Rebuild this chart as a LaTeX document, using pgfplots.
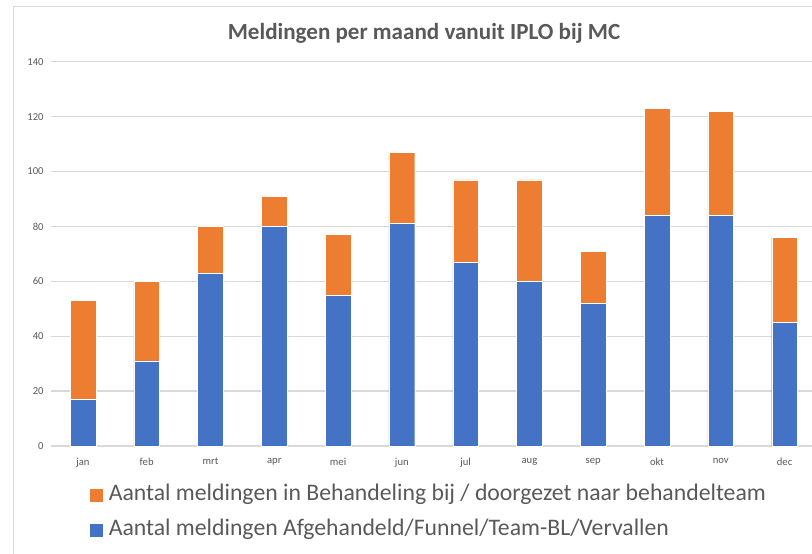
\documentclass[border=0pt]{standalone}
\usepackage{pgfplots}
\pgfplotsset{compat=1.18}
\usepackage{fontspec}
\setmainfont{Carlito}
\definecolor{cblue}{HTML}{4472C4}
\definecolor{corange}{HTML}{ED7D31}
\definecolor{cgrid}{HTML}{D9D9D9}
\definecolor{ctext}{HTML}{595959}
\begin{document}
\begin{tikzpicture}
\path[use as bounding box] (0,0) rectangle (609pt,414.75pt);
\draw[cgrid,line width=1.1pt] (10.1pt,-1pt) -- (10.1pt,409.9pt) -- (610pt,409.9pt);
\node[font=\bfseries\fontsize{17.3}{20}\selectfont,text=ctext] at (318pt,389.5pt) {Meldingen per maand vanuit IPLO bij MC};
\begin{axis}[
  at={(38.25pt,80.25pt)}, anchor=south west,
  scale only axis, width=570.75pt, height=288.2pt,
  ybar stacked, bar width=19.3pt,
  xmin=-0.5, xmax=11.43, ymin=0, ymax=140,
  ytick={0,20,...,140},
  xtick={0,...,11},
  xticklabels={jan,feb,mrt,apr,mei,jun,jul,aug,sep,okt,nov,dec},
  axis line style={draw=none},
  axis x line*=bottom,
  x axis line style={draw=cgrid,line width=1pt},
  ymajorgrids, grid style={cgrid,line width=1pt},
  major tick length=0pt,
  tick label style={font=\fontsize{8}{9}\selectfont,text=ctext},
  yticklabel style={xshift=-2pt},
  xticklabel style={yshift=-5.5pt},
  /pgf/number format/assume math mode=true,
  clip=false,
  reverse legend,
  legend cell align=left,
  legend style={draw=none,fill=none,at={(0.0512,-0.0973)},anchor=north west,
    font=\fontsize{17.8}{20}\selectfont,text=ctext,row sep=9.25pt,inner sep=0pt,
    nodes={inner sep=0pt,text height=13pt,text depth=4pt},
    /tikz/every odd column/.append style={column sep=4.5pt}},
  legend image code/.code={\fill[#1,draw=none] (0pt,-5.2pt) rectangle (9.4pt,4.2pt);},
]
\addplot[fill=cblue,draw=white,line width=0.3pt] coordinates {(0,17) (1,31) (2,63) (3,80) (4,55) (5,81) (6,67) (7,60) (8,52) (9,84) (10,84) (11,45)};
\addplot[fill=corange,draw=white,line width=0.3pt] coordinates {(0,36) (1,29) (2,17) (3,11) (4,22) (5,26) (6,30) (7,37) (8,19) (9,39) (10,38) (11,31)};
\legend{Aantal meldingen Afgehandeld/Funnel/Team-BL/Vervallen, Aantal meldingen in Behandeling bij / doorgezet naar behandelteam}
\end{axis}
\end{tikzpicture}
\end{document}
